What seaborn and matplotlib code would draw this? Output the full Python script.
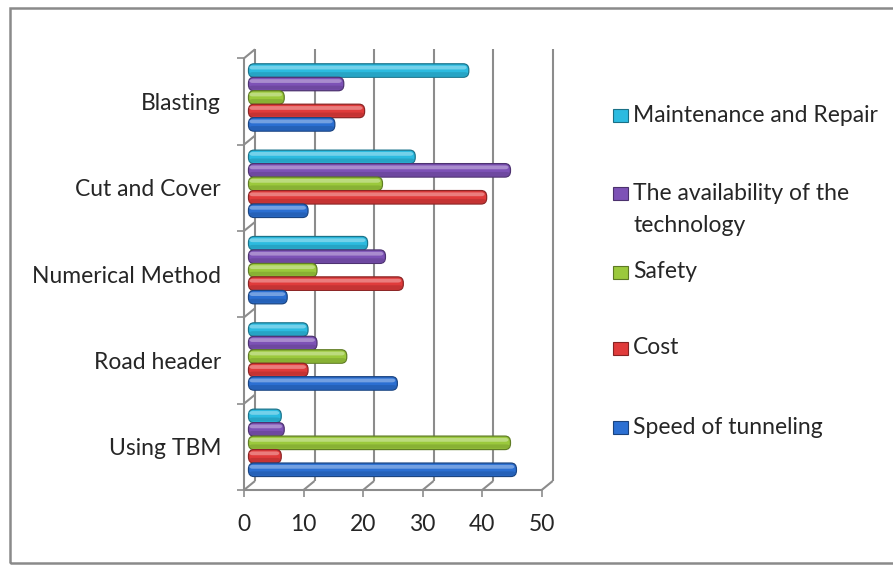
import matplotlib
matplotlib.use("Agg")
import matplotlib.pyplot as plt
import seaborn as sns
import pandas as pd
import numpy as np
from matplotlib.patches import FancyBboxPatch, Rectangle
from matplotlib.transforms import offset_copy
from matplotlib.colors import to_rgb

# ---- data -------------------------------------------------------------
methods = ["Blasting", "Cut and Cover", "Numerical Method", "Road header", "Using TBM"]
series = ["Maintenance and Repair", "The availability of the technology",
          "Safety", "Cost", "Speed of tunneling"]
legend_labels = ["Maintenance and Repair", "The availability of the\ntechnology",
                 "Safety", "Cost", "Speed of tunneling"]
maintenance = [37, 28, 20, 10, 5.5]
availability = [16, 44, 23, 11.5, 6]
safety = [6, 22.5, 11.5, 16.5, 44]
cost = [19.5, 40, 26, 10, 5.5]
speed = [14.5, 10, 6.5, 25, 45]
x_ticks = [0, 10, 20, 30, 40, 50]
colors = ["#2cbbe0", "#7d52b6", "#9bc93c", "#e03b3b", "#2b6fd2"]

values = [maintenance, availability, safety, cost, speed]
df = pd.DataFrame(
    [(m, s, v) for s, vals in zip(series, values) for m, v in zip(methods, vals)],
    columns=["method", "series", "value"],
)

# ---- figure -----------------------------------------------------------
sns.set_theme(style="white")
plt.rcParams["font.family"] = ["Lato", "DejaVu Sans"]
TXT = "#262626"
GRID = "#8c8c8c"
FS = 16.5

W, H = 893, 565
fig = plt.figure(figsize=(W / 100, H / 100), dpi=100)
ax_l, ax_r, ax_t, ax_b = 244, 541.7, 58.3, 490
ax = fig.add_axes([ax_l / W, 1 - ax_b / H, (ax_r - ax_l) / W, (ax_b - ax_t) / H])

sns.barplot(data=df, y="method", x="value", hue="series", order=methods,
            hue_order=series, palette=colors, width=0.78, orient="h",
            saturation=1, legend=False, ax=ax)
ax.set_xlim(0, 50)
ax.set_ylim(4.5, -0.5)
ax.set_xlabel("")
ax.set_ylabel("")

# pixel scale of the data axes, used for the depth offset of the 3-D look
px_x = (ax_r - ax_l) / 50
px_y = (ax_b - ax_t) / 5
dx, dy = 11 / px_x, 9 / px_y

for sp in ax.spines.values():
    sp.set_visible(False)

# back wall gridlines
kw = dict(color=GRID, lw=1.5, clip_on=False, solid_capstyle="butt", zorder=0.5)
for xv in x_ticks[1:]:
    ax.plot([xv + dx, xv + dx], [-0.5 - dy, 4.5 - dy], **kw)
    ax.plot([xv, xv + dx], [4.5, 4.5 - dy], **kw)
# side wall
ax.plot([dx, dx], [-0.5 - dy, 4.5 - dy], **kw)
ax.plot([0, 0], [-0.5, 4.5], **kw)
for b in np.arange(-0.5, 4.6, 1.0):
    ax.plot([0, dx], [b, b - dy], **kw)
# floor front edge
ax.plot([0, 50], [4.5, 4.5], **kw)

# cylinders built from the bars seaborn laid out
bar_tf = offset_copy(ax.transData, fig=fig, x=4.5, y=4, units="dots")
rects = [p for p in ax.patches]
for p in rects:
    x0, y0, w, h = p.get_x(), p.get_y(), p.get_width(), p.get_height()
    c = np.array(to_rgb(p.get_facecolor()))
    p.remove()
    r = 5.5 / px_x
    asp = (6 / px_y) / r
    base = FancyBboxPatch((x0, y0), w, h,
                          boxstyle=f"round,pad=0,rounding_size={r}",
                          mutation_aspect=asp, facecolor=c,
                          edgecolor=c * 0.62, lw=0.9, transform=bar_tf,
                          clip_on=False, zorder=2)
    ax.add_patch(base)
    # darker lower band
    shade = FancyBboxPatch((x0 + 0.1, y0 + h * 0.62), max(w - 0.2, 0.01), h * 0.3,
                           boxstyle=f"round,pad=0,rounding_size={r * 0.7}",
                           mutation_aspect=asp * 0.5, facecolor=c * 0.8,
                           edgecolor="none", alpha=0.6, transform=bar_tf,
                           clip_on=False, zorder=2.1)
    ax.add_patch(shade)
    # glossy highlight
    hl = FancyBboxPatch((x0 + 0.15, y0 + h * 0.14), max(w - 0.5, 0.01), h * 0.28,
                        boxstyle=f"round,pad=0,rounding_size={r * 0.6}",
                        mutation_aspect=asp * 0.5, facecolor=c + (1 - c) * 0.4,
                        edgecolor="none", alpha=0.85, transform=bar_tf,
                        clip_on=False, zorder=2.2)
    ax.add_patch(hl)

# ticks
ax.set_xticks(x_ticks)
ax.set_xticklabels([str(t) for t in x_ticks])
ax.set_yticks(range(len(methods)))
ax.set_yticklabels(methods)
ax.set_yticks(np.arange(-0.5, 4.6, 1.0), minor=True)
ax.tick_params(axis="x", which="major", length=5, width=1.2, color=GRID,
               direction="out", pad=12, labelsize=FS, labelcolor=TXT,
               bottom=True)
ax.tick_params(axis="y", which="major", length=0, pad=16.5, labelsize=FS,
               labelcolor=TXT, left=True)
ax.tick_params(axis="y", which="minor", length=5, width=1.2, color=GRID,
               direction="out", left=True)
ax.grid(False)

# legend
leg_y = [115, 193, 272, 348, 427]
for lab, col, yy in zip(legend_labels, colors, leg_y):
    cc = np.array(to_rgb(col))
    fig.add_artist(Rectangle((613 / W, 1 - (yy + 7) / H), 15 / W, 13 / H,
                             transform=fig.transFigure, facecolor=cc,
                             edgecolor=cc * 0.6, lw=0.8))
    lines = lab.split("\n")
    for i, line in enumerate(lines):
        fig.text(633 / W, 1 - (yy + 32 * i) / H, line, ha="left", va="center",
                 fontsize=FS, color=TXT)

# outer frame
fig.add_artist(Rectangle((10 / W, 1 - 563 / H), 1.2, (563 - 8) / H,
                         transform=fig.transFigure, facecolor="none",
                         edgecolor="#8a8a8a", lw=1.8, clip_on=False))

fig.savefig("out.png", dpi=100)
